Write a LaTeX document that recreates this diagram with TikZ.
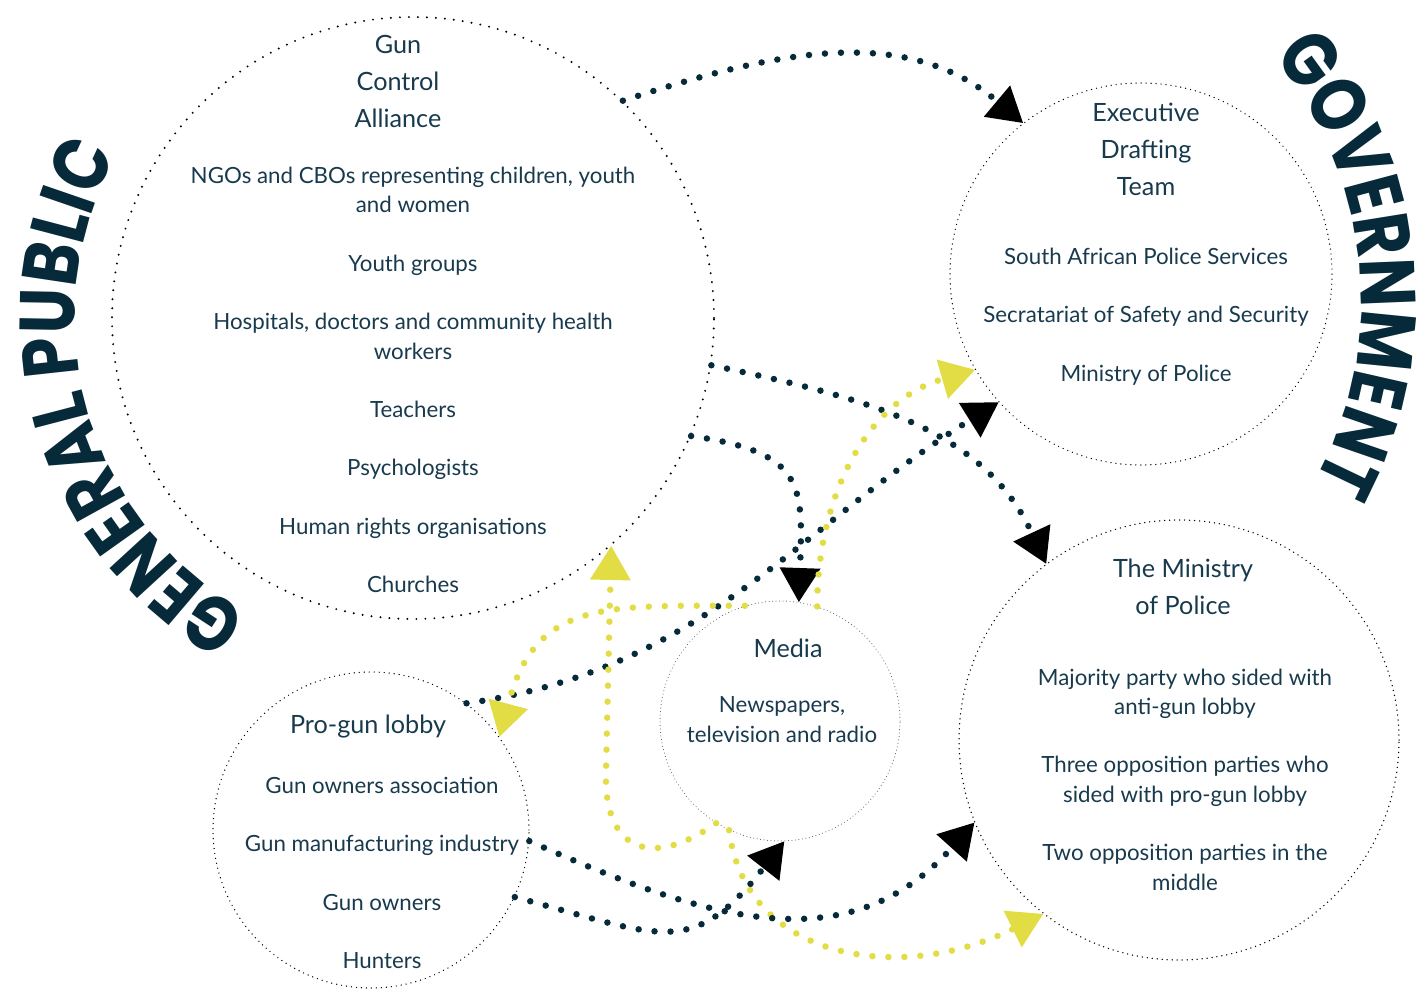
\documentclass[tikz,border=0pt]{standalone}
\usepackage{fontspec}
\setmainfont{Lato}
\newfontfamily\headfont{Poppins}[FakeStretch=0.83]
\usetikzlibrary{arrows.meta, positioning, decorations.text}
\definecolor{navy}{HTML}{072A3B}
\definecolor{ink}{HTML}{183A4D}
\definecolor{lemon}{HTML}{E3DD45}

\begin{document}
\begin{tikzpicture}[x=1pt, y=1pt,
    ring/.style = {circle, draw, inner sep=0pt, line cap=round},
    bigdots/.style = {line width=2.2pt, dash pattern=on 0pt off 9pt},
    smalldots/.style = {line width=1.4pt, dash pattern=on 0pt off 5pt},
    finedots/.style = {line width=1pt, dash pattern=on 0pt off 3.5pt, draw=black!70},
    title/.style = {text=ink, align=center, font=\fontsize{25.2}{37}\selectfont},
    body/.style = {text=ink, align=center, font=\fontsize{22.3}{29.4}\selectfont},
    darrow/.style = {draw=navy, line width=6.5pt, line cap=round, dash pattern=on 0pt off 16pt,
        -{Triangle[length=34pt, width=41pt, line width=0pt]}},
    yarrow/.style = {darrow, draw=lemon}]
    \useasboundingbox (0,0) rectangle (1420,-992);

    % groups
    \node (gca) [ring, bigdots, minimum size=602pt] at (413,-318) {};
    \node (edt) [ring, smalldots, minimum size=382pt] at (1141,-274) {};
    \node (mop) [ring, smalldots, line width=1.5pt, minimum size=440pt] at (1179,-740) {};
    \node (media) [ring, finedots, minimum size=240pt] at (780,-721) {};
    \node (pgl) [ring, smalldots, minimum size=316pt] at (371,-830) {};
    \coordinate (govArc) at (978,-300);

    % curved headings
    \path [decorate, decoration={text along path, text align=center, text color=navy,
        text={|\headfont\bfseries\fontsize{78}{78}\selectfont|GENERAL PUBLIC}}]
        (gca.center) ++(251:338) arc [start angle=251, end angle=141, radius=338];
    \path [decorate, decoration={text along path, text align=center, text color=navy,
        text={|\headfont\bfseries\fontsize{78}{78}\selectfont|GOVERNMENT}}]
        (govArc) ++(55.6:383) arc [start angle=55.6, end angle=-44.4, radius=383];

    % texts
    \node (gcaT) [title] at (398,-81) {Gun\\Control\\Alliance};
    \node (gcaL) [body] at (413,-380) {NGOs and CBOs representing children, youth\\and women\\[29pt]
        Youth groups\\[29pt]Hospitals, doctors and community health\\workers\\[29pt]
        Teachers\\[29pt]Psychologists\\[29pt]Human rights organisations\\[29pt]Churches};
    \node (edtT) [title] at (1146,-149) {Executive\\Drafting\\Team};
    \node (edtL) [body] at (1146,-316.5) {South African Police Services\\[29pt]
        Secratariat of Safety and Security\\[29pt]Ministry of Police};
    \node (mopT) [title] at (1183,-586.5) {The Ministry\\of Police};
    \node (mopL) [body] at (1185,-779.5) {Majority party who sided with\\anti-gun lobby\\[29pt]
        Three opposition parties who\\sided with pro-gun lobby\\[29pt]
        Two opposition parties in the\\middle};
    \node (mediaT) [title] at (788,-648) {Media};
    \node (mediaL) [body] at (782,-719.5) {Newspapers,\\television and radio};
    \node (pglT) [title] at (368,-727) {Pro-gun lobby};
    \node (pglL) [body] at (382,-873) {Gun owners association\\[29pt]
        Gun manufacturing industry\\[29pt]Gun owners\\[29pt]Hunters};

    % influence
    \draw [darrow] (gca.46) to [out=18, in=140] (edt.128);
    \draw [darrow] (gca.-9) to [out=-12, in=115] (mop.127);
    \draw [darrow] (gca.-23) to [out=-8, in=88, looseness=1.5] (media.81);
    \draw [darrow] (pgl.53) to [out=8, in=212] (edt.222);
    \draw [yarrow] (media.72) to [out=90, in=196] (edt.210);
    \draw [yarrow] (media.107) to [out=180, in=75, looseness=1.3] (pgl.36);
    \draw [yarrow] (media.238) .. controls (650,-870) and (603,-850) .. (606,-770) -- (gca.-49);
    \draw [yarrow] (media.245) .. controls (745,-960) and (900,-985) .. (mop.232);
    \draw [darrow] (pgl.-4) to [out=-24, in=228, looseness=1.1] (mop.202);
    \draw [darrow] (pgl.-25) to [out=-15, in=232, looseness=1.4] (media.-88);
\end{tikzpicture}
\end{document}
